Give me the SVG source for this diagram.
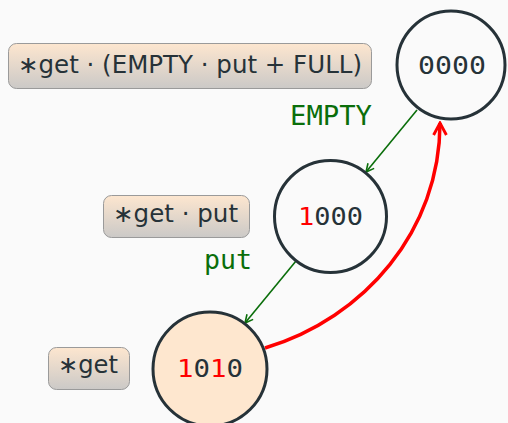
<svg xmlns="http://www.w3.org/2000/svg" width="508" height="423" viewBox="0 0 508 423">
<defs>
<linearGradient id="boxg" x1="0" y1="0" x2="0" y2="1">
<stop offset="0" stop-color="#fde6cf"/>
<stop offset="1" stop-color="#cbc9c7"/>
</linearGradient>
<marker id="ag" viewBox="0 0 10 10" refX="9" refY="5" markerWidth="10" markerHeight="10" markerUnits="userSpaceOnUse" orient="auto">
<path d="M1,1 L9,5 L1,9" fill="none" stroke="#0a6e0a" stroke-width="1.6"/>
</marker>
<marker id="ar" viewBox="0 0 10 10" refX="8.5" refY="5" markerWidth="16" markerHeight="16" markerUnits="userSpaceOnUse" orient="auto">
<path d="M1,1 L8.5,5 L1,9" fill="none" stroke="#ff0000" stroke-width="1.8"/>
</marker>
</defs>
<style>
.box{fill:url(#boxg);stroke:#9a9a9a;stroke-width:1}
.bt{font-family:"DejaVu Sans",sans-serif;font-size:24px;fill:#263238}
.node{stroke:#263238;stroke-width:3}
.nt{font-family:"DejaVu Sans Mono",monospace;font-size:25px;fill:#263238;text-anchor:middle}
.red{fill:#ff0000}
.el{font-family:"DejaVu Sans Mono",monospace;font-size:27px;fill:#0a6e0a}
.eg{stroke:#0a6e0a;stroke-width:1.6;fill:none}
</style>
<rect width="508" height="423" fill="#fafafa"/>
<g id="connectors">
<line class="eg" x1="417" y1="110" x2="366" y2="172" marker-end="url(#ag)"/>
<line class="eg" x1="296" y1="261" x2="245" y2="323" marker-end="url(#ag)"/>
<path d="M265,348 C365,318 440,230 440,123" fill="none" stroke="#ff0000" stroke-width="3.5" marker-end="url(#ar)"/>
<text class="el" x="290" y="125" textLength="82" lengthAdjust="spacingAndGlyphs">EMPTY</text>
<text class="el" x="204" y="269" textLength="48" lengthAdjust="spacingAndGlyphs">put</text>
</g>
<g id="label-top">
<rect class="box" x="8.5" y="43.5" width="363" height="45" rx="8"/>
<text class="bt" x="18" y="73" textLength="344" lengthAdjust="spacingAndGlyphs">∗get · (EMPTY · put + FULL)</text>
</g>
<g id="label-mid">
<rect class="box" x="103.5" y="195.5" width="146" height="42" rx="8"/>
<text class="bt" x="113" y="222" textLength="125" lengthAdjust="spacingAndGlyphs">∗get · put</text>
</g>
<g id="label-bot">
<rect class="box" x="48.5" y="347.5" width="81" height="42" rx="8"/>
<text class="bt" x="58" y="373" textLength="60" lengthAdjust="spacingAndGlyphs">∗get</text>
</g>
<g id="node-0000">
<circle class="node" cx="451" cy="65" r="54" fill="#fafafa"/>
<text class="nt" x="452" y="74" textLength="68" lengthAdjust="spacingAndGlyphs">0000</text>
</g>
<g id="node-1000">
<circle class="node" cx="330.5" cy="216.5" r="56" fill="#fafafa"/>
<text class="nt" x="330.5" y="225" textLength="65" lengthAdjust="spacingAndGlyphs"><tspan class="red">1</tspan>000</text>
</g>
<g id="node-1010">
<circle class="node" cx="210" cy="369" r="57" fill="#fee7cf"/>
<text class="nt" x="210" y="377" textLength="66" lengthAdjust="spacingAndGlyphs"><tspan class="red">1</tspan>0<tspan class="red">1</tspan>0</text>
</g>
</svg>
